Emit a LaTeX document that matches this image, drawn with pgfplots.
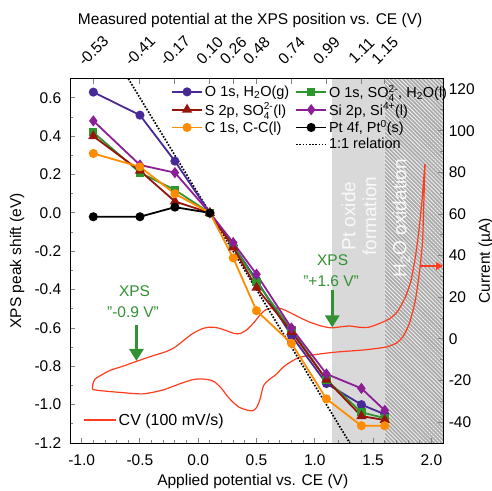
\documentclass[border=0pt]{standalone}
\usepackage{pgfplots}
\pgfplotsset{compat=1.18}
\usepackage{fontspec}
\setmainfont{Liberation Sans}
\usepackage{amsmath}
\usetikzlibrary{arrows.meta,patterns.meta}
\definecolor{cO}{RGB}{72,42,150}
\definecolor{cG}{RGB}{45,150,45}
\definecolor{cS}{RGB}{150,20,10}
\definecolor{cSi}{RGB}{140,30,150}
\definecolor{cC}{RGB}{255,140,0}
\definecolor{cvred}{RGB}{255,60,30}
\definecolor{agreen}{RGB}{50,145,50}
\definecolor{lgray}{RGB}{217,217,217}
\definecolor{hgray}{RGB}{170,170,170}
\newcommand{\so}{SO\ensuremath{_{\text{4}}^{\text{2-}}}}
\begin{document}
\begin{tikzpicture}
\pgfplotsset{
  common/.style={scale only axis, width=373pt, height=364.3pt, at={(70pt,47pt)}, anchor=south west,
    xmin=-1.1, xmax=2.1, tick align=inside,
    tick label style={font=\fontsize{15.5}{18}\selectfont},
    label style={font=\fontsize{15.5}{18}\selectfont},
    /pgf/number format/assume math mode=true,
    major tick length=5pt, minor tick length=3pt, line width=0.9pt,
    tick style={line width=0.9pt}},
}
% ---------- Axis A: CV on right axis ----------
\begin{axis}[common, ymin=-50, ymax=125, axis on top,
  xtick=\empty, ytick={-40,-20,0,20,40,60,80,100,120}, minor y tick num=1,
  ytick pos=right, yticklabel pos=right, yticklabel shift=2pt,
  ylabel={Current (µA)}, ylabel style={at={(axis description cs:1.115,0.5)}, anchor=center},
  legend style={draw=none, fill=none, at={(axis description cs:0.035,0.063)}, anchor=west,
    font=\fontsize{16}{19}\selectfont, inner sep=0pt},
  legend image code/.code={\draw[#1] (0pt,0pt) -- (32pt,0pt);},
]
\fill[lgray] (axis cs:1.15,-50) rectangle (axis cs:1.6,125);
\fill[hgray] (axis cs:1.6,-50) rectangle (axis cs:2.1,125);
\fill[pattern={Lines[angle=-45,distance=2.8pt,line width=0.8pt]}, pattern color=white!92!gray] (axis cs:1.6,-50) rectangle (axis cs:2.1,125);
\node[rotate=90, align=center, text=white!95!gray, font=\fontsize{19}{21}\selectfont] at (axis cs:1.38,59) {Pt oxide\\formation};
\node[rotate=90, text=white!95!gray, font=\fontsize{19}{21}\selectfont] at (axis cs:1.742,58) {H\textsubscript{2}O oxidation};
\addplot[cvred, line width=1.2pt, smooth, tension=0.4] coordinates {
(-0.908,-24.3) (-0.903,-21.5) (-0.885,-19.3) (-0.85,-18.0) (-0.76,-15.2) (-0.65,-13.2)
(-0.53,-10.8) (-0.40,-8.3) (-0.28,-6.2) (-0.20,-4.0) (-0.12,-0.5) (-0.05,2.5) (0.03,4.8)
(0.09,5.6) (0.16,5.4) (0.24,4.0) (0.31,2.6) (0.36,2.6) (0.42,4.5) (0.48,8.0) (0.53,11.5)
(0.58,14.0) (0.65,15.0) (0.72,14.4) (0.80,12.3) (0.88,10.0) (0.96,8.0) (1.05,6.3) (1.14,5.3)
(1.22,5.8) (1.30,6.2) (1.38,5.6) (1.46,5.6) (1.55,7.3) (1.64,9.6) (1.70,12.5) (1.73,15.0)
(1.78,20.5) (1.825,28) (1.862,39) (1.89,50.5) (1.92,66.5) (1.945,84)
(1.935,65) (1.925,47.3) (1.90,33) (1.862,18.4) (1.81,7.2) (1.755,1.0) (1.70,-2.0)
(1.62,-3.8) (1.50,-4.8) (1.40,-5.4) (1.28,-5.9) (1.15,-6.5) (1.01,-7.5) (0.87,-8.8)
(0.78,-11.5) (0.72,-14.0) (0.67,-17.0) (0.61,-19.5) (0.56,-22.5) (0.53,-29) (0.50,-33)
(0.468,-34.5) (0.42,-34.2) (0.354,-32.9) (0.30,-30.5) (0.25,-27.5) (0.20,-23.8) (0.14,-20.6)
(0.09,-19.6) (0.02,-19.2) (-0.05,-19.6) (-0.16,-21.6) (-0.30,-24.5) (-0.475,-26.4)
(-0.67,-25.7) (-0.85,-24.8) (-0.908,-24.3)};
\addlegendentry{CV (100 mV/s)}
\draw[cvred, line width=1.2pt, -{Triangle[width=8pt,length=7pt]}] (axis cs:1.90,35) -- (axis cs:2.1,35);
\end{axis}
% ---------- Axis B: XPS peak shifts ----------
\begin{axis}[common, ymin=-1.2, ymax=0.7,
  xtick={-1,-0.5,0,0.5,1,1.5,2}, minor x tick num=4, xtick pos=bottom, xticklabel shift=8pt,
  ytick={-1.2,-1.0,-0.8,-0.6,-0.4,-0.2,0,0.2,0.4,0.6}, minor y tick num=1, ytick pos=left, yticklabel shift=5pt,
  xticklabel style={/pgf/number format/.cd, fixed, fixed zerofill, precision=1},
  yticklabel style={/pgf/number format/.cd, fixed, fixed zerofill, precision=1},
  xlabel={Applied potential vs. CE (V)}, xlabel style={at={(axis description cs:0.49,-0.106)}, anchor=center},
  ylabel={XPS peak shift (eV)}, ylabel style={at={(axis description cs:-0.142,0.5)}, anchor=center},
  legend style={draw=none, fill=none, at={(axis description cs:0.262,0.995)}, anchor=north west,
    font=\fontsize{14.5}{17}\selectfont, legend columns=2, legend cell align=left,
    /tikz/every even column/.append style={column sep=4pt}},
  legend image code/.code={\draw[mark repeat=2,mark phase=2,#1] plot coordinates {(0pt,0pt) (15pt,0pt) (30pt,0pt)};},
  every axis plot/.append style={line width=1.8pt, mark options={solid}},
]
\addplot[black, line width=1.7pt, dash pattern=on 1.6pt off 1.6pt, forget plot] coordinates {(-0.6,0.7) (1.3,-1.2)};
\addplot[cO, mark=*, mark size=3.6pt] coordinates {
(-0.9,0.63) (-0.5,0.51) (-0.2,0.27) (0.1,0) (0.3,-0.17) (0.5,-0.35) (0.8,-0.64) (1.1,-0.89) (1.4,-1.00) (1.6,-1.05)};
\addlegendentry{O 1s, H\textsubscript{2}O(g)}
\addplot[cG, mark=square*, mark size=3.2pt] coordinates {
(-0.9,0.42) (-0.5,0.21) (-0.2,0.12) (0.1,0) (0.3,-0.17) (0.5,-0.36) (0.8,-0.61) (1.1,-0.87) (1.4,-1.04) (1.6,-1.07)};
\addlegendentry{O 1s, \so, H\textsubscript{2}O(l)}
\addplot[cS, mark=triangle*, mark size=4.2pt] coordinates {
(-0.9,0.40) (-0.5,0.22) (-0.2,0.06) (0.1,0) (0.3,-0.18) (0.5,-0.39) (0.8,-0.62) (1.1,-0.87) (1.4,-1.06) (1.6,-1.08)};
\addlegendentry{S 2p, \so(l)}
\addplot[cSi, mark=diamond*, mark size=4.2pt] coordinates {
(-0.9,0.48) (-0.5,0.25) (-0.2,0.21) (0.1,0) (0.3,-0.155) (0.5,-0.32) (0.8,-0.60) (1.1,-0.84) (1.4,-0.915) (1.6,-1.03)};
\addlegendentry{Si 2p, Si\textsuperscript{4+}(l)}
\addplot[cC, mark=*, mark size=3.6pt] coordinates {
(-0.9,0.31) (-0.5,0.24) (-0.2,0.10) (0.1,0) (0.3,-0.235) (0.5,-0.51) (0.8,-0.68) (1.1,-0.97) (1.4,-1.11) (1.6,-1.11)};
\addlegendentry{C 1s, C-C(l)}
\addplot[black, mark=*, mark size=3.6pt] coordinates {
(-0.9,-0.02) (-0.5,-0.02) (-0.2,0.03) (0.1,0)};
\addlegendentry{Pt 4f, Pt\textsuperscript{0}(s)}
\addlegendimage{empty legend}\addlegendentry{}
\addlegendimage{black, line width=1.7pt, dash pattern=on 1.6pt off 1.6pt}
\addlegendentry{1:1 relation}
\draw[agreen, line width=3pt, -{Triangle[width=14pt,length=12pt]}] (axis cs:-0.53,-0.585) -- (axis cs:-0.53,-0.772);
\node[agreen, font=\fontsize{15.5}{18}\selectfont] at (axis cs:-0.546,-0.406) {XPS};
\node[agreen, font=\fontsize{15.5}{18}\selectfont] at (axis cs:-0.56,-0.516) {"-0.9 V"};
\draw[agreen, line width=3pt, -{Triangle[width=14pt,length=12pt]}] (axis cs:1.15,-0.403) -- (axis cs:1.15,-0.597);
\node[agreen, font=\fontsize{15.5}{18}\selectfont] at (axis cs:1.153,-0.246) {XPS};
\node[agreen, font=\fontsize{15.5}{18}\selectfont] at (axis cs:1.14,-0.354) {"+1.6 V"};
\end{axis}
% ---------- Axis C: top axis ----------
\begin{axis}[common, ymin=0, ymax=1, ytick=\empty, xtick pos=top, xticklabel pos=top,
  xtick={-0.9,-0.5,-0.2,0.1,0.3,0.5,0.8,1.1,1.4,1.6},
  xticklabels={-0.53,-0.41,-0.17,0.10,0.26,0.48,0.74,0.99,1.11,1.15},
  xticklabel style={rotate=45, anchor=center}, xticklabel shift=28pt,
  xlabel={Measured potential at the XPS position vs. CE (V)},
  xlabel style={at={(axis description cs:0.483,1.159)}, anchor=center},
]
\end{axis}
\pgfresetboundingbox
\path[use as bounding box] (0,0) rectangle (492pt,490pt);
\end{tikzpicture}
\end{document}
